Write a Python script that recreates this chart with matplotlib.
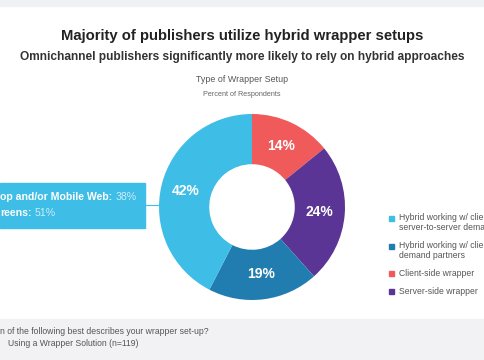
import matplotlib
matplotlib.use("Agg")
import matplotlib.pyplot as plt
from matplotlib.patches import Rectangle

# data
labels = ["Client-side wrapper", "Server-side wrapper",
          "Hybrid working w/ client-side demand partners",
          "Hybrid working w/ client-side and server-to-server demand"]
values = [14, 24, 19, 42]
colors = ["#f05a5b", "#5a3596", "#217daf", "#3ebde6"]

legend_lines = [
    ("Hybrid working w/ client-side and", "server-to-server demand", "#3ebde6"),
    ("Hybrid working w/ client-side", "demand partners", "#217daf"),
    ("Client-side wrapper", None, "#f05a5b"),
    ("Server-side wrapper", None, "#5a3596"),
]
callout_lines = [("op and/or Mobile Web:", "38%"), ("reens:", "51%")]

W, H = 485, 360
fig = plt.figure(figsize=(W / 100, H / 100), dpi=100)
fig.patch.set_facecolor("white")

def fx(px):
    return px / W

def fy(py):
    return 1 - py / H

# gray bands top and bottom
fig.patches.append(Rectangle((0, fy(6)), 1, 6 / H, transform=fig.transFigure,
                             color="#f0f1f3", zorder=0))
fig.patches.append(Rectangle((0, 0), 1, fy(319), transform=fig.transFigure,
                             color="#f2f2f4", zorder=0))

# titles
fig.text(fx(242), fy(36), "Majority of publishers utilize hybrid wrapper setups",
         ha="center", va="center", fontsize=10.7, fontweight="bold", color="#222222",
         family="Liberation Sans")
fig.text(fx(242), fy(57), "Omnichannel publishers significantly more likely to rely on hybrid approaches",
         ha="center", va="center", fontsize=8.6, fontweight="bold", color="#333333",
         family="Liberation Sans")
fig.text(fx(242), fy(80), "Type of Wrapper Setup", ha="center", va="center",
         fontsize=6.4, color="#555555", family="Liberation Sans")
fig.text(fx(242), fy(94), "Percent of Respondents", ha="center", va="center",
         fontsize=5.2, color="#666666", family="Liberation Sans")

# donut
cx, cy, r = 252, 207, 93
ax = fig.add_axes([fx(cx - r), fy(cy + r), 2 * r / W, 2 * r / H])
wedges, texts, autotexts = ax.pie(
    values, colors=colors, startangle=90, counterclock=False, radius=1,
    wedgeprops=dict(width=0.54, edgecolor="none"),
    autopct=lambda p: f"{p * sum(values) / 100:.0f}%", pctdistance=0.73)
for t in autotexts:
    t.set_color("white")
    t.set_fontsize(10)
    t.set_fontweight("bold")
    t.set_family("Liberation Sans")
ax.set_xlim(-1, 1)
ax.set_ylim(-1, 1)
ax.axis("off")

# callout box on the left
fig.patches.append(Rectangle((0, fy(228)), fx(145), 45 / H, transform=fig.transFigure,
                             color="#3ebde6", zorder=1))
fig.add_artist(plt.Line2D([fx(145), fx(160)], [fy(205), fy(205)],
                          transform=fig.transFigure, color="#3ebde6", lw=0.8))
for i, (bold, val) in enumerate(callout_lines):
    y = fy(197 + i * 16)
    t = fig.text(fx(0), y, bold, ha="left", va="center", fontsize=7.6,
                 fontweight="bold", color="white", family="Liberation Sans")
    fig.canvas.draw()
    bb = t.get_window_extent()
    fig.text(bb.x1 / W + fx(3), y, val, ha="left", va="center", fontsize=7.6,
             color="#cdeefa", family="Liberation Sans")

# legend
ly = [218, 246, 273, 291]
for (l1, l2, c), y in zip(legend_lines, ly):
    fig.patches.append(Rectangle((fx(389.5), fy(y + 2.5)), fx(5), 5 / H,
                                 transform=fig.transFigure, color=c))
    fig.text(fx(399), fy(y), l1, ha="left", va="center", fontsize=6.2,
             color="#555555", family="Liberation Sans")
    if l2:
        fig.text(fx(399), fy(y + 10), l2, ha="left", va="center", fontsize=6.2,
                 color="#555555", family="Liberation Sans")

# footnote
fig.text(fx(0), fy(332), "n of the following best describes your wrapper set-up?",
         ha="left", va="center", fontsize=6.2, color="#555555", family="Liberation Sans")
fig.text(fx(8), fy(343), "Using a Wrapper Solution (n=119)",
         ha="left", va="center", fontsize=6.2, color="#555555", family="Liberation Sans")

fig.savefig("out.png", dpi=100)
